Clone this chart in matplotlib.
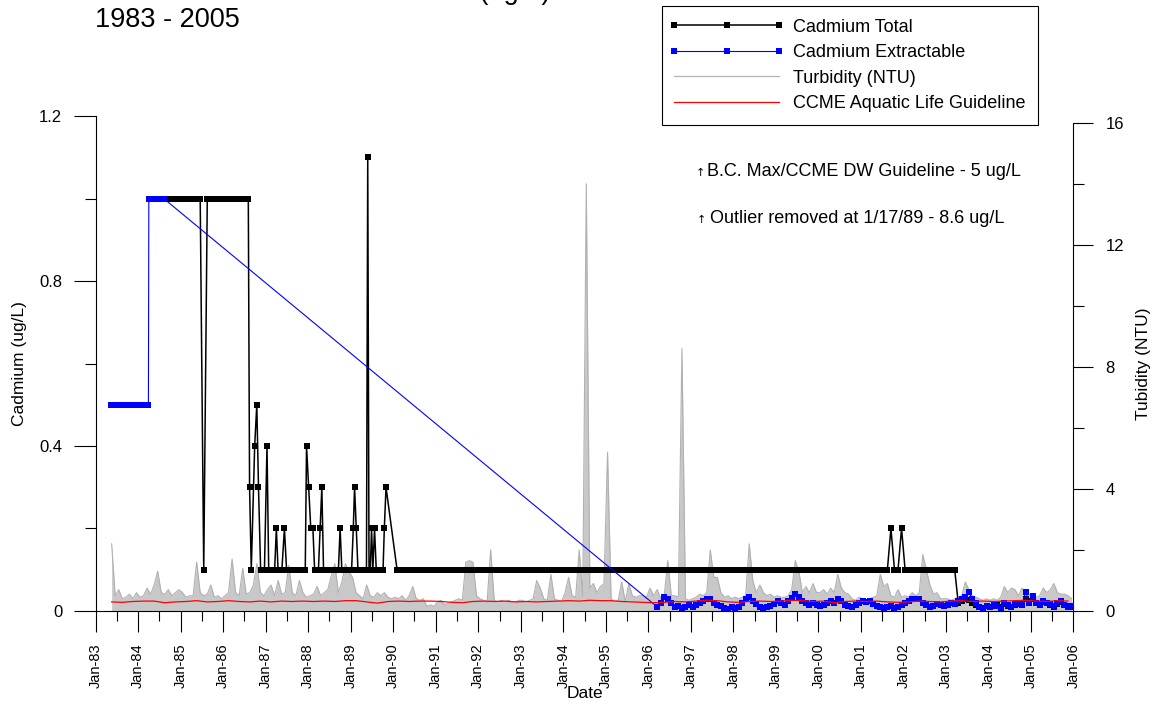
import numpy as np
import matplotlib.pyplot as plt
from matplotlib.lines import Line2D
from matplotlib.legend_handler import HandlerLine2D

plt.rcParams['font.family'] = ['Liberation Sans', 'DejaVu Sans']


def monthly(year, month, n):
    # mid-month sampling dates as decimal years
    return year + (month - 1 + np.arange(n) + 0.5) / 12.0


# ---- data -------------------------------------------------------------
tick_years = list(range(1983, 2007))
tick_labels = ['Jan-83', 'Jan-84', 'Jan-85', 'Jan-86', 'Jan-87', 'Jan-88',
               'Jan-89', 'Jan-90', 'Jan-91', 'Jan-92', 'Jan-93', 'Jan-94',
               'Jan-95', 'Jan-96', 'Jan-97', 'Jan-98', 'Jan-99', 'Jan-00',
               'Jan-01', 'Jan-02', 'Jan-03', 'Jan-04', 'Jan-05', 'Jan-06']

# turbidity (NTU), monthly from May 1983
turbidity = [
    2.2, 0.5, 0.7, 0.4, 0.45, 0.55, 0.4, 0.6,                        # 1983
    0.45, 0.5, 0.75, 0.55, 0.85, 1.3, 0.6, 0.55, 0.7, 0.5, 0.6, 0.7,  # 1984
    0.6, 0.45, 0.5, 0.5, 1.6, 0.6, 0.5, 0.55, 0.85, 0.45, 0.5, 0.4,   # 1985
    0.5, 0.6, 1.7, 0.6, 0.5, 1.4, 0.55, 0.6, 0.85, 1.55, 0.6, 0.5,    # 1986
    0.7, 0.85, 0.5, 1.0, 0.55, 0.6, 1.5, 0.6, 0.5, 1.0, 0.6, 0.45,    # 1987
    0.5, 0.55, 0.8, 0.5, 0.6, 0.7, 1.15, 1.55, 0.6, 0.95, 1.55, 1.3,  # 1988
    1.1, 0.6, 0.5, 0.4, 0.85, 0.5, 0.45, 0.6, 0.5, 0.6, 0.45, 0.4,    # 1989
    0.45, 0.4, 0.5, 0.35, 0.5, 0.8, 0.4, 0.35, 0.4, 0.15, 0.2, 0.15,  # 1990
    0.3, 0.35, 0.2, 0.25, 0.3, 0.35, 0.4, 0.35, 1.6, 1.65, 1.6, 0.5,  # 1991
    0.4, 0.35, 0.3, 2.0, 0.35, 0.3, 0.35, 0.3, 0.35, 0.3, 0.3, 0.35,  # 1992
    0.35, 0.3, 0.35, 0.4, 1.0, 0.75, 0.4, 0.35, 1.2, 0.4, 0.35, 0.3,  # 1993
    0.6, 1.1, 0.5, 0.45, 2.0, 0.5, 14.0, 0.75, 0.9, 0.6, 0.8, 0.9,    # 1994
    5.2, 0.4, 0.3, 0.35, 0.95, 0.3, 0.9, 0.5, 0.45, 0.5, 0.5, 0.45,   # 1995
    0.75, 0.5, 0.7, 0.4, 0.5, 1.65, 0.5, 0.5, 0.45, 8.6, 0.4, 0.35,   # 1996
    0.4, 0.45, 0.55, 0.5, 0.6, 2.0, 1.1, 1.1, 0.6, 0.45, 0.5, 0.4,    # 1997
    0.45, 0.4, 0.45, 0.5, 2.2, 1.0, 0.6, 0.85, 0.6, 0.5, 0.55, 0.45,  # 1998
    0.5, 0.45, 0.45, 0.5, 0.7, 1.65, 1.3, 0.6, 0.8, 0.6, 0.9, 0.6,    # 1999
    0.6, 0.7, 0.55, 0.75, 0.6, 1.2, 0.75, 0.6, 0.55, 0.4, 0.35, 0.45, # 2000
    0.4, 0.35, 0.4, 0.45, 0.5, 1.2, 0.8, 0.9, 0.5, 0.45, 0.7, 0.45,   # 2001
    0.5, 0.45, 0.6, 0.5, 0.6, 1.85, 1.35, 0.85, 0.55, 0.6, 0.4, 0.4,  # 2002
    0.4, 0.35, 0.4, 0.45, 0.5, 0.95, 0.7, 0.5, 0.45, 0.4, 0.35, 0.4,  # 2003
    0.35, 0.4, 0.35, 0.45, 0.8, 0.6, 0.75, 0.7, 0.5, 0.75, 0.5, 0.55, # 2004
    0.5, 0.45, 0.5, 0.75, 0.6, 0.7, 0.9, 0.6, 0.55, 0.55, 0.5, 0.4,   # 2005
]

# CCME aquatic life guideline (ug/L), quarterly from May 1983
ccme = [
    0.022, 0.021, 0.023,
    0.024, 0.024, 0.020, 0.022,  0.023, 0.025, 0.022, 0.023,
    0.025, 0.023, 0.022, 0.024,  0.022, 0.024, 0.023, 0.024,
    0.023, 0.024, 0.023, 0.025,  0.025, 0.022, 0.019, 0.023,
    0.024, 0.023, 0.024, 0.024,  0.023, 0.021, 0.020, 0.023,
    0.024, 0.023, 0.024, 0.022,  0.023, 0.022, 0.023, 0.024,
    0.025, 0.024, 0.026, 0.025,  0.025, 0.023, 0.022, 0.021,
    0.020, 0.021, 0.023, 0.022,  0.024, 0.026, 0.025, 0.022,
    0.021, 0.023, 0.024, 0.023,  0.024, 0.026, 0.025, 0.023,
    0.024, 0.020, 0.023, 0.024,  0.023, 0.024, 0.022, 0.021,
    0.022, 0.024, 0.023, 0.022,  0.024, 0.025, 0.023, 0.024,
    0.023, 0.024, 0.025, 0.026,  0.024, 0.023, 0.025, 0.024,
]

# cadmium extractable (ug/L): early samples, then monthly from Mar 1996
ext_early_years = [1983.36, 1983.42, 1983.48, 1983.54, 1983.60, 1983.66,
                   1983.72, 1983.78, 1983.84, 1983.90, 1983.96, 1984.02,
                   1984.08, 1984.14, 1984.20, 1984.24,
                   1984.25, 1984.30, 1984.35, 1984.40, 1984.45, 1984.50,
                   1984.55, 1984.60]
ext_early = [0.5] * 16 + [1.0] * 8
ext_late = [
    0.01, 0.02, 0.035, 0.03, 0.02, 0.01, 0.012, 0.008, 0.01, 0.015,                # 1996
    0.01, 0.015, 0.02, 0.025, 0.03, 0.028, 0.02, 0.015, 0.012, 0.008, 0.006, 0.01,  # 1997
    0.008, 0.01, 0.02, 0.028, 0.035, 0.025, 0.018, 0.01, 0.007, 0.009, 0.012, 0.018,
    0.025, 0.02, 0.015, 0.025, 0.032, 0.04, 0.035, 0.025, 0.02, 0.015, 0.02, 0.015,
    0.012, 0.015, 0.02, 0.025, 0.02, 0.03, 0.025, 0.015, 0.012, 0.01, 0.015, 0.02,
    0.025, 0.022, 0.025, 0.018, 0.012, 0.01, 0.008, 0.01, 0.012, 0.008, 0.01, 0.015,
    0.02, 0.025, 0.03, 0.028, 0.03, 0.02, 0.015, 0.01, 0.012, 0.018, 0.015, 0.012,
    0.015, 0.02, 0.018, 0.025, 0.03, 0.035, 0.045, 0.03, 0.02, 0.01, 0.005, 0.012,
    0.01, 0.015, 0.012, 0.008, 0.02, 0.015, 0.01, 0.018, 0.02, 0.015, 0.047, 0.02,
    0.036, 0.02, 0.015, 0.025, 0.02, 0.018, 0.012, 0.02, 0.025, 0.015, 0.01, 0.012,  # 2005
]

# cadmium total (ug/L)
total_a = [1.0, 1.0, 1.0, 1.0,                                   # Sep-Dec 1984
           1.0, 1.0, 1.0, 1.0, 1.0, 1.0, 0.1, 1.0, 1.0, 1.0, 1.0, 1.0,  # 1985
           1.0, 1.0, 1.0, 1.0, 1.0, 1.0, 1.0]                    # Jan-Jul 1986
total_b = [(1986.59, 1.0), (1986.62, 0.3), (1986.66, 0.1), (1986.74, 0.4),
           (1986.79, 0.5), (1986.83, 0.3), (1986.88, 0.1), (1986.92, 0.1),
           (1986.97, 0.1), (1987.03, 0.4), (1987.07, 0.1), (1987.12, 0.1),
           (1987.17, 0.1), (1987.21, 0.1), (1987.25, 0.2), (1987.29, 0.1),
           (1987.33, 0.1), (1987.38, 0.1), (1987.44, 0.2), (1987.49, 0.1),
           (1987.54, 0.1), (1987.59, 0.1), (1987.64, 0.1), (1987.69, 0.1),
           (1987.74, 0.1), (1987.79, 0.1), (1987.84, 0.1), (1987.89, 0.1),
           (1987.93, 0.1), (1987.96, 0.4), (1988.01, 0.3), (1988.06, 0.2),
           (1988.11, 0.2), (1988.15, 0.1), (1988.20, 0.1), (1988.24, 0.1),
           (1988.28, 0.2), (1988.32, 0.3), (1988.36, 0.1), (1988.41, 0.1),
           (1988.46, 0.1), (1988.51, 0.1), (1988.56, 0.1), (1988.61, 0.1),
           (1988.66, 0.1), (1988.71, 0.1), (1988.75, 0.2), (1988.79, 0.1),
           (1988.84, 0.1), (1988.89, 0.1), (1988.94, 0.1), (1988.98, 0.1),
           (1989.02, 0.1), (1989.06, 0.2), (1989.09, 0.3), (1989.13, 0.2),
           (1989.17, 0.1), (1989.21, 0.1), (1989.26, 0.1), (1989.30, 0.1),
           (1989.34, 0.1), (1989.37, 0.1), (1989.40, 1.1), (1989.43, 0.1),
           (1989.46, 0.1), (1989.49, 0.2), (1989.52, 0.1), (1989.56, 0.2),
           (1989.60, 0.1), (1989.64, 0.1), (1989.68, 0.1), (1989.72, 0.1),
           (1989.76, 0.1), (1989.79, 0.2), (1989.83, 0.3), (1990.09, 0.1)]
total_c = [
    0.1, 0.1, 0.1, 0.1, 0.1, 0.1, 0.1, 0.1, 0.1, 0.1, 0.1,        # Feb-Dec 1990
    0.1, 0.1, 0.1, 0.1, 0.1, 0.1, 0.1, 0.1, 0.1, 0.1, 0.1, 0.1,   # 1991
    0.1, 0.1, 0.1, 0.1, 0.1, 0.1, 0.1, 0.1, 0.1, 0.1, 0.1, 0.1,   # 1992
    0.1, 0.1, 0.1, 0.1, 0.1, 0.1, 0.1, 0.1, 0.1, 0.1, 0.1, 0.1,   # 1993
    0.1, 0.1, 0.1, 0.1, 0.1, 0.1, 0.1, 0.1, 0.1, 0.1, 0.1, 0.1,   # 1994
    0.1, 0.1, 0.1, 0.1, 0.1, 0.1, 0.1, 0.1, 0.1, 0.1, 0.1, 0.1,   # 1995
    0.1, 0.1, 0.1, 0.1, 0.1, 0.1, 0.1, 0.1, 0.1, 0.1, 0.1, 0.1,   # 1996
    0.1, 0.1, 0.1, 0.1, 0.1, 0.1, 0.1, 0.1, 0.1, 0.1, 0.1, 0.1,   # 1997
    0.1, 0.1, 0.1, 0.1, 0.1, 0.1, 0.1, 0.1, 0.1, 0.1, 0.1, 0.1,   # 1998
    0.1, 0.1, 0.1, 0.1, 0.1, 0.1, 0.1, 0.1, 0.1, 0.1, 0.1, 0.1,   # 1999
    0.1, 0.1, 0.1, 0.1, 0.1, 0.1, 0.1, 0.1, 0.1, 0.1, 0.1, 0.1,   # 2000
    0.1, 0.1, 0.1, 0.1, 0.1, 0.1, 0.1, 0.1, 0.2, 0.1, 0.1, 0.2,   # 2001
    0.1, 0.1, 0.1, 0.1, 0.1, 0.1, 0.1, 0.1, 0.1, 0.1, 0.1, 0.1,   # 2002
    0.1, 0.1, 0.1,                                                # Jan-Mar 2003
]
total_d = [
    0.02, 0.025, 0.03, 0.026, 0.02, 0.015, 0.01, 0.008, 0.012,                # Apr-Dec 2003
    0.01, 0.012, 0.015, 0.01, 0.018, 0.012, 0.01, 0.015, 0.018, 0.02, 0.03, 0.025,
    0.03, 0.02, 0.018, 0.022, 0.02, 0.015, 0.01, 0.018, 0.022, 0.015, 0.012, 0.01,
]

# ---- assemble series ---------------------------------------------------
turb_years = monthly(1983, 5, len(turbidity))
ccme_years = monthly(1983, 5, 3 * len(ccme))[::3]
ext_years = np.concatenate([ext_early_years, monthly(1996, 3, len(ext_late))])
ext_vals = np.concatenate([ext_early, ext_late])
total_years = np.concatenate([monthly(1984, 9, len(total_a)),
                              [d for d, v in total_b],
                              monthly(1990, 2, len(total_c)),
                              monthly(2003, 4, len(total_d))])
total_vals = np.concatenate([total_a, [v for d, v in total_b], total_c, total_d])

# ---- figure ------------------------------------------------------------
fig = plt.figure(figsize=(11.6, 7.07), dpi=100)
ax = fig.add_axes([0.0825, 0.1358, 0.8428, 0.7001])
ax2 = ax.twinx()
ax.set_zorder(ax2.get_zorder() + 1)
ax.patch.set_visible(False)

ax2.fill_between(turb_years, 0, turbidity, color='#c8c8c8', lw=0)
ax2.plot(turb_years, turbidity, color='#b0b0b0', lw=0.8)

ax.plot(total_years, total_vals, color='black', lw=1.1, marker='s', ms=5,
        mew=0, label='Cadmium Total')
ax.plot(ext_years, ext_vals, color='#0000ff', lw=0.8, marker='s', ms=5,
        mew=0, label='Cadmium Extractable')
ax.plot(ccme_years, ccme, color='#ff0000', lw=0.9,
        label='CCME Aquatic Life Guideline')

# axes, ticks
ax.set_xlim(1983, 2006)
ax.set_ylim(0, 1.2)
ax.set_xticks(tick_years)
ax.set_xticklabels(tick_labels)
ax.set_xticks([y + 0.5 for y in tick_years[:-1]], minor=True)
ax.set_yticks([0, 0.4, 0.8, 1.2])
ax.set_yticklabels(['0', '0.4', '0.8', '1.2'])
ax.set_yticks([0.2, 0.6, 1.0], minor=True)
ax.tick_params(axis='x', which='major', length=15, width=0.8, pad=8,
               labelsize=10.5, labelrotation=90)
ax.tick_params(axis='x', which='minor', length=7.5, width=0.8)
ax.tick_params(axis='y', which='major', length=16, width=0.8, pad=8, labelsize=12)
ax.tick_params(axis='y', which='minor', length=8, width=0.8)
for s in ['top', 'right']:
    ax.spines[s].set_visible(False)
for s in ['left', 'bottom']:
    ax.spines[s].set_linewidth(0.8)

ax2.set_ylim(0, 16.22)
ax2.set_yticks([0, 4, 8, 12, 16])
ax2.set_yticks([2, 6, 10, 14], minor=True)
ax2.tick_params(axis='y', which='major', length=14.5, width=0.8, pad=8.5, labelsize=12)
ax2.tick_params(axis='y', which='minor', length=8, width=0.8)
for s in ['top', 'left', 'bottom']:
    ax2.spines[s].set_visible(False)
ax2.spines['right'].set_bounds(0, 16)
ax2.spines['right'].set_linewidth(0.8)

ax.set_xlabel('Date', fontsize=12.5)
ax.xaxis.set_label_coords(0.5, -0.151)
ax.set_ylabel('Cadmium (ug/L)', fontsize=12.5)
ax.yaxis.set_label_coords(-0.070, 0.5)
ax2.set_ylabel('Tubidity (NTU)', fontsize=12.5)
ax2.yaxis.set_label_coords(1.064, 0.5)

# notes
ax.text(0.6181, 0.8788, '\u2191', transform=ax.transAxes, fontsize=8,
        ha='center', va='baseline', family=['DejaVu Sans'])
ax.text(0.6253, 0.8788, 'B.C. Max/CCME DW Guideline - 5 ug/L',
        transform=ax.transAxes, fontsize=13, va='baseline')
ax.text(0.6192, 0.7832, '\u2191', transform=ax.transAxes, fontsize=8,
        ha='center', va='baseline', family=['DejaVu Sans'])
ax.text(0.6280, 0.7832, 'Outlier removed at 1/17/89 - 8.6 ug/L',
        transform=ax.transAxes, fontsize=13, va='baseline')

# titles (top line is cut by the page edge in the original)
fig.text(550 / 1160, 1 + 1.5 / 707, 'Cadmium (ug/L)', fontsize=19.5,
         ha='right', va='baseline')
fig.text(95 / 1160, 1 - 26.7 / 707, '1983 - 2005', fontsize=19.5,
         ha='left', va='baseline')

# legend
handles = [ax.lines[0], ax.lines[1],
           Line2D([], [], color='#b4b4b4', lw=0.9),
           ax.lines[2]]
labels = ['Cadmium Total', 'Cadmium Extractable', 'Turbidity (NTU)',
          'CCME Aquatic Life Guideline']
leg = ax.legend(handles, labels, loc='upper left',
                bbox_to_anchor=(661.7 / 1160, 1 - 6 / 707),
                bbox_transform=fig.transFigure, borderaxespad=0,
                handler_map={Line2D: HandlerLine2D(marker_pad=0, numpoints=3)},
                fontsize=13, handlelength=5.8, handletextpad=0.75,
                labelspacing=0.47, borderpad=0.7, fancybox=False, framealpha=1,
                edgecolor='black')
leg.get_frame().set_linewidth(0.8)

fig.savefig('out.png', dpi=100)
